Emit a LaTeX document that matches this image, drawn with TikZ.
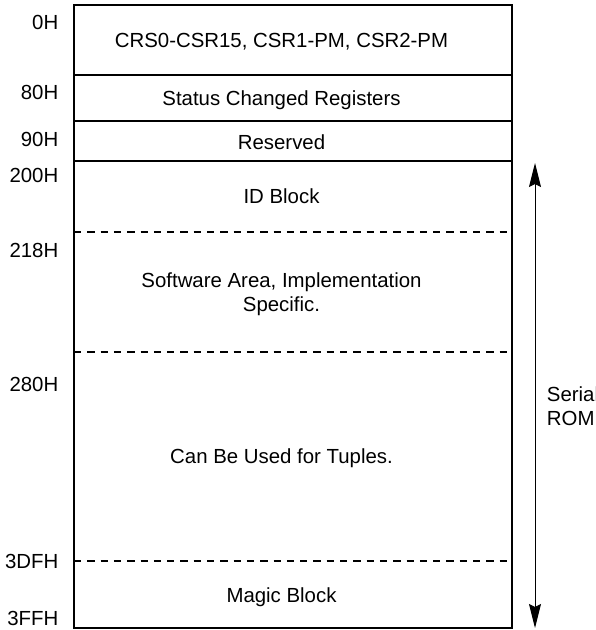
\documentclass[tikz,border=0pt]{standalone}
\usepackage{fontspec}
\setmainfont{Liberation Sans}
\usetikzlibrary{arrows.meta}

\begin{document}
\begin{tikzpicture}[x=1pt, y=-1pt,
    every node/.style={inner sep=0pt, font=\fontsize{20.4}{24}\selectfont},
    addr/.style={anchor=base east},
    cell/.style={anchor=base},
    cellsplit/.style={anchor=north, align=center},
    sep/.style={line width=1.5pt},
    dsep/.style={line width=1.3pt, dash pattern=on 7.3pt off 6pt}]

    \useasboundingbox (0,0) rectangle (596,630);

    % outer frame
    \draw[line width=2pt] (74,5) rectangle (512,628);

    % solid borders
    \draw[sep] (74,75) -- (512,75);
    \draw[sep] (74,121) -- (512,121);
    \draw[sep] (74,161) -- (512,161);

    % dashed borders
    \draw[dsep] (74,232) -- (512,232);
    \draw[dsep] (74,352) -- (512,352);
    \draw[dsep] (74,561) -- (512,561);

    % addresses
    \node[addr] (a0) at (58.5,29.3) {0H};
    \node[addr] (a80) at (58.5,99.8) {80H};
    \node[addr] (a90) at (58.5,146) {90H};
    \node[addr] (a200) at (58.5,182.3) {200H};
    \node[addr] (a218) at (58.5,257.3) {218H};
    \node[addr] (a280) at (58.5,391.3) {280H};
    \node[addr] (a3df) at (58.5,568) {3DFH};
    \node[addr] (a3ff) at (58.5,625.3) {3FFH};

    % contents
    \node[cell] (csr) at (281.5,47.3) {CRS0-CSR15, CSR1-PM, CSR2-PM};
    \node[cell] (stat) at (281.5,105.3) {Status Changed Registers};
    \node[cell] (resv) at (281.5,149.3) {Reserved};
    \node[cell] (idblk) at (281.5,203.3) {ID Block};
    \node[cellsplit] (soft) at (281.5,272.7) {Software Area, Implementation\\Specific.};
    \node[cell] (tupl) at (281.5,463.3) {Can Be Used for Tuples.};
    \node[cell] (magic) at (281.5,602.8) {Magic Block};

    % serial rom span
    \coordinate (romtop) at (535,163);
    \coordinate (rombot) at (535,628);
    \draw[line width=1pt, {Stealth[length=24pt, width=12pt, inset=3pt]}-{Stealth[length=24pt, width=12pt, inset=3pt]}] (romtop) -- (rombot);
    \node[anchor=north west, align=left] (rom) at (546.7,387) {Serial\\ROM};

\end{tikzpicture}
\end{document}
